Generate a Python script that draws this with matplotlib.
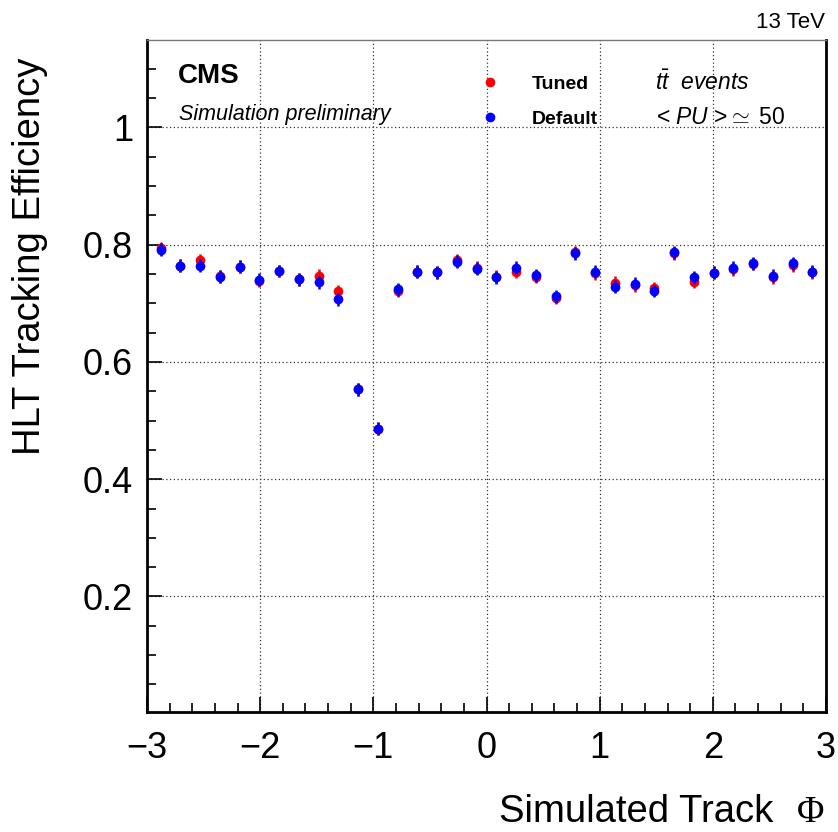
import numpy as np
import matplotlib
matplotlib.use("Agg")
import matplotlib.pyplot as plt
from matplotlib.ticker import MultipleLocator

plt.rcParams['font.family'] = ['Liberation Sans', 'DejaVu Sans']
plt.rcParams['mathtext.fontset'] = 'custom'
plt.rcParams['mathtext.rm'] = 'Liberation Sans'
plt.rcParams['mathtext.it'] = 'Liberation Sans:italic'
plt.rcParams['mathtext.bf'] = 'Liberation Sans:bold'

# 36 phi bins over [-pi, pi]; bins 2..35 lie within the displayed range
n_bins = 36
edges = np.linspace(-np.pi, np.pi, n_bins + 1)
phi = 0.5 * (edges[:-1] + edges[1:])[1:-1]

eff_tuned = [0.794, 0.764, 0.773, 0.746, 0.762, 0.738, 0.755, 0.741, 0.747, 0.721,
             0.553, 0.486, 0.721, 0.754, 0.753, 0.773, 0.761, 0.745, 0.754, 0.745,
             0.709, 0.787, 0.751, 0.735, 0.731, 0.726, 0.785, 0.737, 0.752, 0.758,
             0.767, 0.744, 0.765, 0.753]
eff_default = [0.791, 0.764, 0.764, 0.745, 0.762, 0.740, 0.755, 0.741, 0.736, 0.707,
               0.553, 0.486, 0.724, 0.754, 0.753, 0.771, 0.759, 0.744, 0.761, 0.748,
               0.712, 0.785, 0.754, 0.728, 0.733, 0.721, 0.787, 0.744, 0.752, 0.761,
               0.768, 0.747, 0.768, 0.754]
err_tuned = [0.011] * len(eff_tuned)
err_default = [0.011] * len(eff_default)

W, H = 838, 832
fig = plt.figure(figsize=(W / 100, H / 100), dpi=100)
ax = fig.add_axes([147 / W, 1 - 712 / H, (826 - 147) / W, (712 - 40) / H])

ax.errorbar(phi, eff_tuned, yerr=err_tuned, fmt='o', color='#ff0000', ms=7,
            elinewidth=1.8, capsize=0, mew=0, zorder=3)
ax.errorbar(phi, eff_default, yerr=err_default, fmt='o', color='#0000ff', ms=7,
            elinewidth=1.8, capsize=0, mew=0, zorder=4)

ax.set_xlim(-3, 3)
ax.set_ylim(0.003, 1.149)
ax.xaxis.set_major_locator(MultipleLocator(1))
ax.xaxis.set_minor_locator(MultipleLocator(0.2))
ax.yaxis.set_minor_locator(MultipleLocator(0.05))
ax.set_yticks([0.2, 0.4, 0.6, 0.8, 1.0])
ax.set_yticklabels(['0.2', '0.4', '0.6', '0.8', '1'])
ax.tick_params(which='both', direction='in', top=False, right=False, labelsize=26)
ax.tick_params(which='major', length=11, width=1.2)
ax.tick_params(which='minor', length=6.5, width=1.2)
ax.tick_params(axis='x', pad=14)
ax.tick_params(axis='y', pad=10)
ax.grid(True, which='major', color='#333333', linestyle=(0, (1, 2)), linewidth=0.9)
ax.set_axisbelow(True)

for s in ['left', 'bottom', 'right']:
    ax.spines[s].set_linewidth(2.0)
    ax.spines[s].set_color('black')
ax.spines['top'].set_linewidth(1.0)
ax.spines['top'].set_color('#777777')

fig.text(30 / W, 1 - 455 / H, 'HLT Tracking Efficiency', rotation=90, fontsize=27.5,
         ha='center', va='bottom')
fig.text(773 / W, 1 - 822 / H, 'Simulated Track', fontsize=27.5,
         ha='right', va='baseline')
fig.text(824 / W, 1 - 822 / H, 'Φ', fontsize=27, family='Liberation Serif',
         ha='right', va='baseline')

fig.text(825 / W, 1 - 28 / H, '13 TeV', fontsize=16, ha='right', va='baseline')
fig.text(178 / W, 1 - 83 / H, 'CMS', fontsize=20, fontweight='bold', ha='left', va='baseline')
fig.text(179 / W, 1 - 120 / H, 'Simulation preliminary', fontsize=15.5, style='italic',
         ha='left', va='baseline')

# legend
fig.lines.append(plt.Line2D([490 / W], [1 - 82 / H], marker='o', color='#ff0000', ms=7,
                            mew=0, transform=fig.transFigure))
fig.lines.append(plt.Line2D([490 / W], [1 - 117 / H], marker='o', color='#0000ff', ms=7,
                            mew=0, transform=fig.transFigure))
fig.text(532 / W, 1 - 89 / H, 'Tuned', fontsize=14, fontweight='bold', ha='left', va='baseline')
fig.text(532 / W, 1 - 124 / H, 'Default', fontsize=14, fontweight='bold', ha='left', va='baseline')

fig.text(655 / W, 1 - 90 / H, r'$t\bar{t}$  $events$', fontsize=16.5, ha='left', va='baseline')
fig.text(656 / W, 1 - 124 / H, r'< $PU$ >$\simeq$ 50', fontsize=16.5, ha='left', va='baseline',
         family=['Liberation Sans', 'DejaVu Sans'])

fig.savefig('out.png', dpi=100)
